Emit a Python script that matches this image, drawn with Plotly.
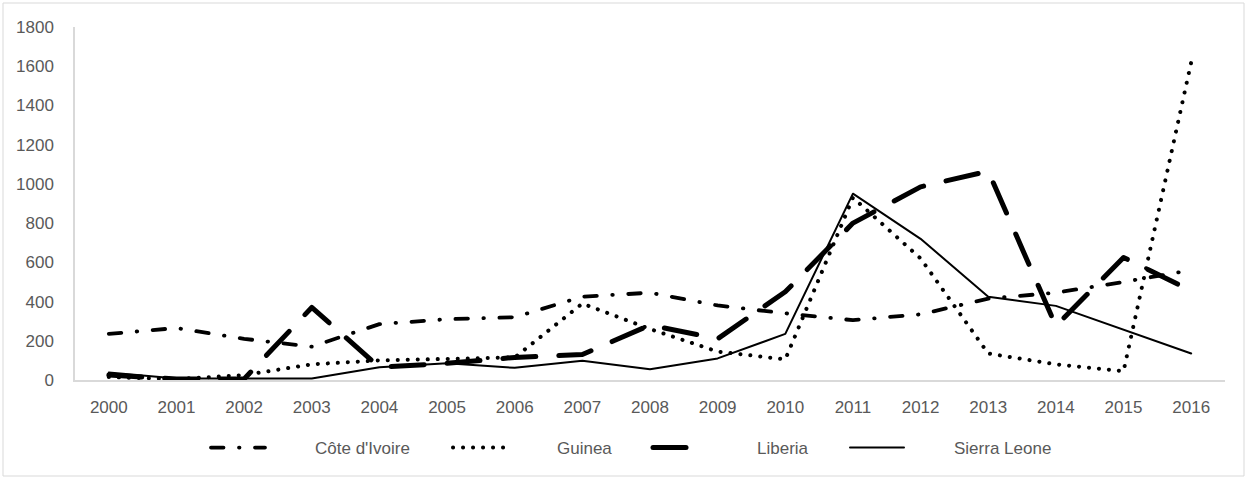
import plotly.graph_objects as go

years = [str(y) for y in range(2000, 2017)]
cote_divoire = [235, 265, 210, 170, 285, 310, 320, 425, 445, 380, 340, 305, 335, 415, 445, 500, 560]
guinea = [15, 5, 25, 80, 100, 105, 115, 390, 260, 145, 105, 930, 620, 135, 80, 45, 1620]
liberia = [25, 5, 5, 370, 65, 85, 115, 130, 280, 210, 450, 800, 985, 1065, 275, 625, 455]
sierra_leone = [38, 8, 8, 8, 65, 85, 62, 98, 55, 110, 235, 950, 720, 425, 378, 255, 135]
y_ticks = [0, 200, 400, 600, 800, 1000, 1200, 1400, 1600, 1800]
names = ["Côte d'Ivoire", "Guinea", "Liberia", "Sierra Leone"]

font = dict(family="Liberation Sans, Arial, sans-serif", size=17, color="#595959")

# plot area in pixels: x 75..1225, y 27..380
def px_x(p):
    return (p - 75) / 1150

def px_y(p):
    return (380 - p) / 353

fig = go.Figure()
fig.add_trace(go.Scatter(x=years, y=cote_divoire, name=names[0], mode="lines", legend="legend",
                         line=dict(color="black", width=3.8, dash="12.5px,15.5px,0.5px,15.5px")))
fig.add_trace(go.Scatter(x=years, y=guinea, name=names[1], mode="lines", legend="legend2",
                         line=dict(color="black", width=4, dash="0.1px,9.9px")))
fig.add_trace(go.Scatter(x=years, y=liberia, name=names[2], mode="lines", legend="legend3",
                         line=dict(color="black", width=5, dash="33px,23px")))
fig.add_trace(go.Scatter(x=years, y=sierra_leone, name=names[3], mode="lines", legend="legend4",
                         line=dict(color="black", width=2)))

symbol_starts = [208, 450, 650, 847]
iw = 54
text_shift = 45
legends = {}
for i, ss in enumerate(symbol_starts):
    key = "legend" if i == 0 else f"legend{i + 1}"
    legends[key] = dict(orientation="h", x=px_x(ss - 2), xanchor="left",
                        y=px_y(448), yanchor="middle", itemwidth=iw, font=font,
                        entrywidth=200, entrywidthmode="pixels",
                        bgcolor="rgba(0,0,0,0)")

fig.update_layout(
    width=1250, height=480,
    margin=dict(l=75, r=25, t=27, b=100, autoexpand=False),
    paper_bgcolor="white", plot_bgcolor="white",
    font=font,
    showlegend=True,
    xaxis=dict(type="category", range=[-0.5, 16.5], showgrid=False, showline=True,
               linecolor="#d9d9d9", linewidth=1.5, ticks="", tickfont=font,
               ticklabelstandoff=11, zeroline=False),
    yaxis=dict(range=[0, 1800], tickvals=y_ticks, showgrid=False, showline=True,
               linecolor="#d9d9d9", linewidth=1.5, ticks="", tickfont=font,
               ticklabelstandoff=16, zeroline=False),
    shapes=[dict(type="rect", xref="paper", yref="paper",
                 x0=px_x(3), x1=px_x(1244), y0=px_y(476), y1=px_y(3),
                 line=dict(color="#d9d9d9", width=1), layer="below")],
    **legends,
)

post = """
document.body.style.margin = '0px';
var gd = document.getElementById('{plot_id}');
var legendNames = NAMES;
function restyleDom() {
  document.querySelectorAll('path.js-line').forEach(function (p) {
    p.style.strokeLinecap = 'round';
    p.style.strokeLinejoin = 'round';
  });
  document.querySelectorAll('text').forEach(function (t) {
    if (legendNames.indexOf(t.textContent) >= 0) {
      t.setAttribute('transform', 'translate(SHIFT,0)');
    }
  });
}
restyleDom();
if (gd && gd.on) { gd.on('plotly_afterplot', restyleDom); }
var n = 0;
var timer = setInterval(function () { restyleDom(); n += 1; if (n > 60) { clearInterval(timer); } }, 25);
""".replace("SHIFT", str(text_shift)).replace("NAMES", str(names).replace('"', "\\\"") if False else
    "[" + ",".join("'" + s.replace("'", "\\'") + "'" for s in names) + "]")
fig.write_html("out.html", post_script=post, config={"displayModeBar": False})
